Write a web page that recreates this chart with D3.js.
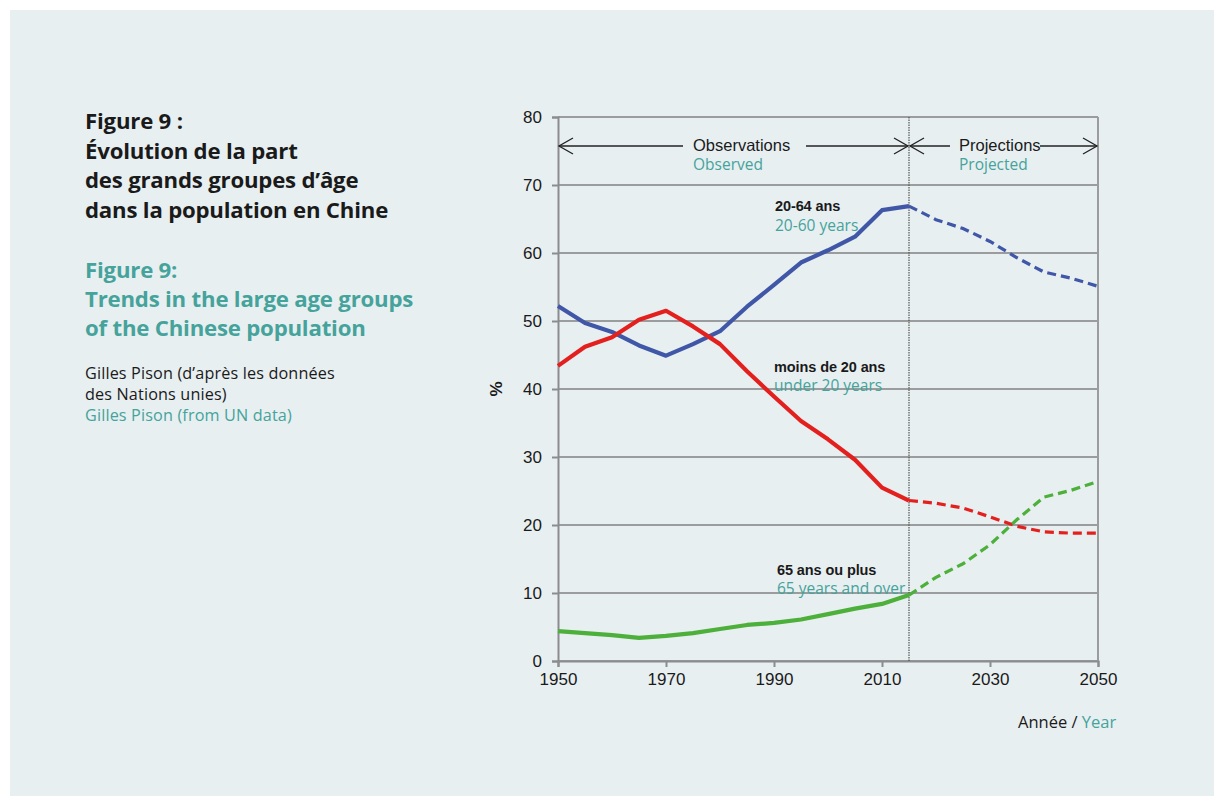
<!DOCTYPE html>
<html><head><meta charset="utf-8">
<script src="https://cdn.jsdelivr.net/npm/d3@7"></script>
<style>
html,body{margin:0;padding:0;background:#fff;}
svg{display:block;}
</style></head>
<body>
<svg id="chart" width="1214" height="796"></svg>
<script>
const years = [1950,1955,1960,1965,1970,1975,1980,1985,1990,1995,2000,2005,2010,2015,2020,2025,2030,2035,2040,2045,2050];
const adults = [52.2,49.7,48.4,46.4,44.9,46.6,48.5,52.1,55.3,58.6,60.4,62.4,66.3,66.9,64.9,63.6,61.7,59.3,57.2,56.3,55.1];
const young  = [43.4,46.2,47.6,50.2,51.5,49.2,46.6,42.6,38.9,35.3,32.6,29.6,25.5,23.6,23.2,22.5,21.2,19.8,19.0,18.8,18.8];
const elderly= [4.4,4.1,3.8,3.4,3.7,4.1,4.7,5.3,5.6,6.1,6.9,7.7,8.4,9.7,12.3,14.3,17.1,20.8,24.1,25.1,26.4];
const splitYear = 2015;
const xTicks = [1950,1970,1990,2010,2030,2050];
const yTicks = [0,10,20,30,40,50,60,70,80];

const svg = d3.select("#chart");
svg.append("rect").attr("x",10).attr("y",10).attr("width",1204).attr("height",786).attr("fill","#e8eff1");

const teal = "#45a39b";
const dark = "#1a1a1a";
const titleFont = "'Open Sans', 'Noto Sans', sans-serif";
const chartFont = "'Liberation Sans', Arial, sans-serif";

// Left text block
const tl = svg.append("g").attr("font-family", titleFont);
[["Figure 9 :",129],["Évolution de la part",159],["des grands groupes d’âge",188],["dans la population en Chine",218]].forEach(([t,y])=>{
  tl.append("text").attr("x",85).attr("y",y).attr("font-size",22.2).attr("font-weight",700).attr("fill",dark).attr("letter-spacing",-0.2).text(t);
});
[["Figure 9:",278],["Trends in the large age groups",307],["of the Chinese population",336]].forEach(([t,y])=>{
  tl.append("text").attr("x",85).attr("y",y).attr("font-size",22.2).attr("font-weight",700).attr("fill",teal).attr("letter-spacing",-0.2).text(t);
});
[["Gilles Pison (d’après les données",dark,379],["des Nations unies)",dark,400],["Gilles Pison (from UN data)",teal,421]].forEach(([t,c,y])=>{
  tl.append("text").attr("x",85).attr("y",y).attr("font-size",16.2).attr("fill",c).attr("letter-spacing",0.15).text(t);
});

// Scales
const x = d3.scaleLinear().domain([1950,2050]).range([558,1098]);
const y = d3.scaleLinear().domain([0,80]).range([661,117]);

const g = svg.append("g").attr("font-family", chartFont);

// gridlines
g.append("g").selectAll("line").data(yTicks).join("line")
  .attr("x1",x(1950)).attr("x2",x(2050)).attr("y1",d=>y(d)).attr("y2",d=>y(d))
  .attr("stroke","#9a9c9d").attr("stroke-width",2);
// right frame
g.append("line").attr("x1",x(2050)).attr("x2",x(2050)).attr("y1",y(80)).attr("y2",y(0)).attr("stroke","#9a9c9d").attr("stroke-width",2);

// axes
const yAxis = d3.axisLeft(y).tickValues(yTicks).tickSize(6).tickPadding(10);
const ya = g.append("g").attr("transform",`translate(${x(1950)},0)`).call(yAxis);
ya.select(".domain").attr("stroke","#8a8c8d").attr("stroke-width",2);
ya.selectAll(".tick line").attr("stroke","#8a8c8d").attr("stroke-width",2);
ya.selectAll("text").attr("font-size",17).attr("fill",dark).attr("font-family",chartFont);

const xAxis = d3.axisBottom(x).tickValues(xTicks).tickFormat(d3.format("d")).tickSize(6).tickPadding(6);
const xa = g.append("g").attr("transform",`translate(0,${y(0)})`).call(xAxis);
xa.select(".domain").attr("stroke","#8a8c8d").attr("stroke-width",2);
xa.selectAll(".tick line").attr("stroke","#8a8c8d").attr("stroke-width",2);
xa.selectAll("text").attr("font-size",17).attr("fill",dark).attr("font-family",chartFont);

// % label
g.append("text").attr("transform",`translate(502,389) rotate(-90)`).attr("text-anchor","middle")
  .attr("font-size",17).attr("font-weight",700).attr("fill",dark).text("%");

// split line
g.append("line").attr("x1",x(splitYear)).attr("x2",x(splitYear)).attr("y1",y(80)).attr("y2",y(0))
  .attr("stroke","#555").attr("stroke-width",1.2).attr("stroke-dasharray","1.5,1");

// series
const series = [
  {vals:adults, color:"#4057a8"},
  {vals:young, color:"#e3201e"},
  {vals:elderly, color:"#4cb03a"}
];
const line = d3.line().x(d=>x(d[0])).y(d=>y(d[1]));
series.forEach(s=>{
  const pts = years.map((yr,i)=>[yr,s.vals[i]]);
  const obs = pts.filter(p=>p[0]<=splitYear);
  const proj = pts.filter(p=>p[0]>=splitYear);
  g.append("path").attr("d",line(obs)).attr("fill","none").attr("stroke",s.color).attr("stroke-width",4.2).attr("stroke-linejoin","round");
  g.append("path").attr("d",line(proj)).attr("fill","none").attr("stroke",s.color).attr("stroke-width",3.2).attr("stroke-dasharray","9,5");
});

// arrows
const arrowY = 146;
function arrowHead(xp, dir){
  g.append("path").attr("d",`M${xp - dir*14},${arrowY-8} L${xp},${arrowY} L${xp - dir*14},${arrowY+8}`)
    .attr("fill","none").attr("stroke","#222").attr("stroke-width",1.3);
}
[[x(1950)+1,683],[806,x(splitYear)-1],[x(splitYear)+1,950],[1040,x(2050)-1]].forEach(([a,b])=>{
  g.append("line").attr("x1",a).attr("x2",b).attr("y1",arrowY).attr("y2",arrowY).attr("stroke","#222").attr("stroke-width",1.3);
});
arrowHead(x(1950)+1,-1); arrowHead(x(splitYear)-1,1); arrowHead(x(splitYear)+1,-1); arrowHead(x(2050)-1,1);

g.append("text").attr("x",693).attr("y",151).attr("font-size",16.5).attr("fill",dark).text("Observations");
g.append("text").attr("x",693).attr("y",170).attr("font-size",15.5).attr("fill",teal).attr("font-family",titleFont).text("Observed");
g.append("text").attr("x",959).attr("y",151).attr("font-size",16.5).attr("fill",dark).text("Projections");
g.append("text").attr("x",959).attr("y",170).attr("font-size",15.5).attr("fill",teal).attr("font-family",titleFont).text("Projected");

// series labels
[["20-64 ans","20-60 years",775,211,231],["moins de 20 ans","under 20 years",774,372,391],["65 ans ou plus","65 years and over",777,575,594]].forEach(([a,b,xx,y1,y2])=>{
  g.append("text").attr("x",xx).attr("y",y1).attr("font-size",14.5).attr("font-weight",700).attr("fill",dark).attr("letter-spacing",-0.1).text(a);
  g.append("text").attr("x",xx).attr("y",y2).attr("font-size",15.5).attr("fill",teal).attr("font-family",titleFont).text(b);
});

// axis title
const at = svg.append("text").attr("x",1018).attr("y",728).attr("font-family",titleFont).attr("font-size",16.5);
at.append("tspan").attr("fill",dark).text("Année / ");
at.append("tspan").attr("fill",teal).text("Year");
</script>
</body></html>
